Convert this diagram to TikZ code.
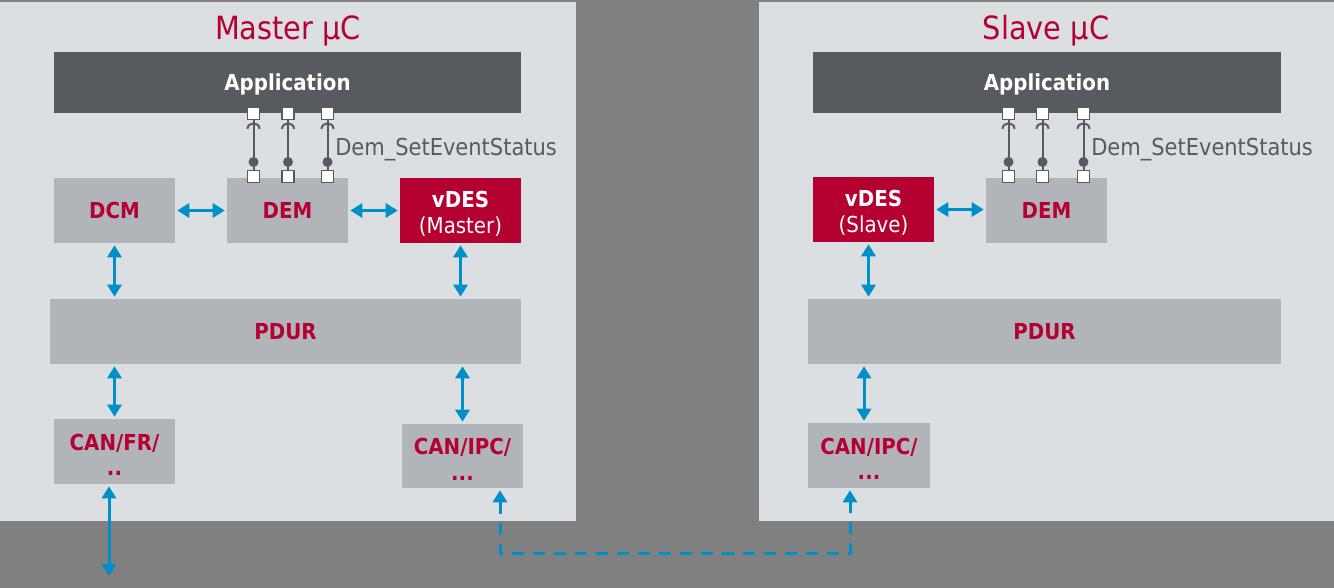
\documentclass[tikz,border=0pt]{standalone}
\usepackage{fontspec}
\setmainfont{DejaVu Sans}[FakeStretch=0.9]
\usetikzlibrary{arrows.meta}
\definecolor{bggray}{RGB}{128,128,128}
\definecolor{panel}{RGB}{220,223,226}
\definecolor{boxgray}{RGB}{177,181,185}
\definecolor{darkbox}{RGB}{87,91,95}
\definecolor{crim}{RGB}{181,0,50}
\definecolor{arrblue}{RGB}{0,143,200}
\newcommand\tl{\rule{0pt}{17pt}}
\tikzset{
  blk/.style={fill=boxgray, text=crim, font=\fontsize{16.5}{20}\selectfont\bfseries, inner sep=0pt, minimum width=90.75pt, minimum height=48.75pt, align=center},
  oneline/.style={text height=12.5pt, text depth=0pt},
  appbox/.style={fill=darkbox, text=white, font=\fontsize{16.5}{20}\selectfont\bfseries, inner sep=0pt, minimum height=45.75pt, oneline},
  vdesbox/.style={blk, fill=crim, text=white},
  title/.style={text=crim, font=\fontsize{24}{28}\selectfont},
  port/.style={draw=darkbox, fill=white, line width=1pt, minimum size=9pt, inner sep=0pt},
  ball/.style={circle, fill=darkbox, minimum size=7.5pt, inner sep=0pt},
  ifline/.style={draw=darkbox, line width=1.5pt},
  iflabel/.style={text=darkbox, font=\fontsize{17.5}{20}\selectfont, anchor=west, inner sep=0pt},
  biarrow/.style={draw=arrblue, line width=2.25pt, {Triangle[width=10.5pt,length=9pt]}-{Triangle[width=10.5pt,length=9pt]}, shorten <=1.5pt, shorten >=1.5pt},
  dasharrow/.style={biarrow, dash pattern=on 9pt off 6.75pt}
}
\begin{document}
\begin{tikzpicture}[x=0.75pt, y=-0.75pt]
\useasboundingbox (0,0) rectangle (1334,588);
\fill[bggray] (0,0) rectangle (1334,588);
\fill[panel] (0,2) rectangle (576,521);
\fill[panel] (759,2) rectangle (1334,521);

% ---------------- Master ----------------
\node[title] (tm) at (288,31) {Master µC};
\node[appbox, minimum width=350.25pt] (app1) at (287.5,82.5) {Application};
\node[blk, oneline] (dcm1) at (114.5,210.5) {DCM};
\node[blk, oneline] (dem1) at (287.5,210.5) {DEM};
\node[vdesbox] (vdes1) at (460.5,210.5) {\tl vDES\\[-1pt]\mdseries (Master)};
\node[blk, oneline, minimum width=353.25pt] (pdur1) at (285.5,331.5) {PDUR};
\node[blk] (canfr) at (114.5,451.5) {\tl CAN/FR/\\[-1pt]..};
\node[blk, minimum height=48pt] (canipc1) at (462.5,456) {\tl CAN/IPC/\\[-1pt]...};

% interfaces master
\foreach \i/\x in {1/253.5, 2/288, 3/327.5}{
  \node[port] (mt\i) at (\x,113.5) {};
  \node[port] (mb\i) at (\x,176.5) {};
  \draw[ifline] (mb\i.north) -- (mt\i.south);
  \draw[ifline] (\x-6,129) .. controls (\x-6,121.5) and (\x+6,121.5) .. (\x+6,129);
  \node[ball] (mball\i) at (\x,162) {};
}
\node[iflabel] (lab1) at (335,150) {Dem\_SetEventStatus};

% arrows master
\draw[biarrow] (dcm1.east) -- (dem1.west);
\draw[biarrow] (dem1.east) -- (vdes1.west);
\draw[biarrow] (dcm1.south) -- (dcm1.south |- pdur1.north);
\draw[biarrow] (vdes1.south) -- (vdes1.south |- pdur1.north);
\draw[biarrow] (canfr.north) -- (canfr.north |- pdur1.south);
\draw[biarrow] (canipc1.north) -- (canipc1.north |- pdur1.south);
\coordinate (busend) at (109,576);
\draw[biarrow, shorten >=0pt] (canfr.south -| busend) -- (busend);

% ---------------- Slave ----------------
\node[title] (ts) at (1046,31) {Slave µC};
\node[appbox, minimum width=351pt] (app2) at (1047,82.5) {Application};
\node[vdesbox] (vdes2) at (873.5,209.5) {\tl vDES\\[-1pt]\mdseries (Slave)};
\node[blk, oneline] (dem2) at (1046.5,210.5) {DEM};
\node[blk, oneline, minimum width=354.75pt] (pdur2) at (1044.5,331.5) {PDUR};
\node[blk, minimum width=91.5pt] (canipc2) at (869,455.5) {\tl CAN/IPC/\\[-1pt]...};

\foreach \i/\x in {1/1008.5, 2/1042.5, 3/1083.5}{
  \node[port] (st\i) at (\x,113.5) {};
  \node[port] (sb\i) at (\x,176.5) {};
  \draw[ifline] (sb\i.north) -- (st\i.south);
  \draw[ifline] (\x-6,129) .. controls (\x-6,121.5) and (\x+6,121.5) .. (\x+6,129);
  \node[ball] (sball\i) at (\x,162) {};
}
\node[iflabel] (lab2) at (1091,150) {Dem\_SetEventStatus};

\draw[biarrow] (vdes2.east) -- (vdes2.east -| dem2.west);
\draw[biarrow] ([xshift=-3.75pt]vdes2.south) -- ([xshift=-3.75pt]vdes2.south |- pdur2.north);
\draw[biarrow] ([xshift=-3.75pt]canipc2.north) -- ([xshift=-3.75pt]canipc2.north |- pdur2.south);

% dashed link
\coordinate (d1) at (500,553);
\coordinate (d2) at (850,553);
\draw[dasharrow] (canipc1.south -| d1) -- (d1) -- (d2) -- (canipc2.south -| d2);
\end{tikzpicture}
\end{document}
